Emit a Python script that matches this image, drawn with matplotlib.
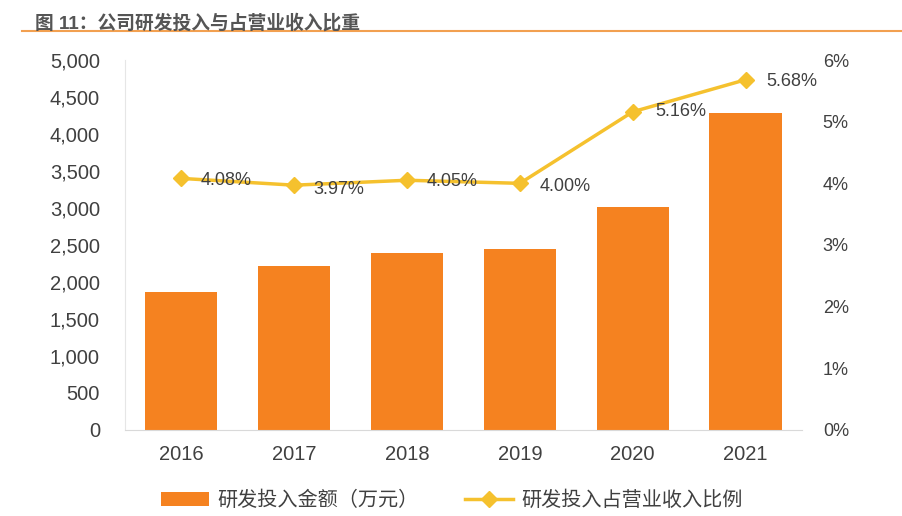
import numpy as np
import matplotlib
matplotlib.use("Agg")
from matplotlib import pyplot as plt
from matplotlib.ticker import FuncFormatter, MultipleLocator

plt.rcParams['font.family'] = ['Liberation Sans', 'Noto Sans CJK SC', 'DejaVu Sans']

years = ["2016", "2017", "2018", "2019", "2020", "2021"]
rd_amount = [1865, 2216, 2392, 2446, 3014, 4284]
rd_ratio = [4.08, 3.97, 4.05, 4.00, 5.16, 5.68]
ratio_labels = ["4.08%", "3.97%", "4.05%", "4.00%", "5.16%", "5.68%"]

bar_color = "#F58220"
line_color = "#F5C12E"
text_color = "#404040"

fig = plt.figure(figsize=(9.03, 5.16), dpi=100)
ax = fig.add_axes([0.1384, 0.1667, 0.7497, 0.717])
x = np.arange(len(years))

bars = ax.bar(x, rd_amount, width=0.64, color=bar_color, zorder=2,
              label="研发投入金额（万元）")
ax.set_ylim(0, 5000)
ax.set_xlim(-0.5, len(years) - 0.5)
ax.yaxis.set_major_locator(MultipleLocator(500))
ax.yaxis.set_major_formatter(FuncFormatter(lambda v, p: f"{int(v):,}"))
ax.set_xticks(x)
ax.set_xticklabels(years)
for s in ["top", "right"]:
    ax.spines[s].set_visible(False)
ax.spines["bottom"].set_color("#D9D9D9")
ax.spines["left"].set_color("#E6E6E6")
ax.tick_params(axis="both", length=0, labelsize=14.5, colors=text_color)
ax.tick_params(axis="x", pad=11)
ax.tick_params(axis="y", pad=18)

ax2 = ax.twinx()
line, = ax2.plot(x, rd_ratio, color=line_color, lw=2.5, marker="D", ms=8,
                 zorder=3, label="研发投入占营业收入比例")
ax2.set_ylim(0, 6)
ax2.yaxis.set_major_locator(MultipleLocator(1))
ax2.yaxis.set_major_formatter(FuncFormatter(lambda v, p: f"{int(v)}%"))
for s in ax2.spines.values():
    s.set_visible(False)
ax2.tick_params(axis="y", length=0, labelsize=13, colors=text_color, pad=15)

offsets = [(14, -1.5), (14, -3), (14, -1), (14, -2), (16, 0), (15, -1)]
for xi, yi, lab, off in zip(x, rd_ratio, ratio_labels, offsets):
    ax2.annotate(lab, (xi, yi), xytext=off, textcoords="offset points",
                 ha="left", va="center", fontsize=13, color=text_color)

fig.text(0.039, 0.973, "图 11：公司研发投入与占营业收入比重", fontsize=13.5,
         fontweight="bold", color="#555555", va="top", ha="left")
fig.add_artist(plt.Line2D([0.024, 1.0], [0.94, 0.94], color="#F2A050", lw=1.5))

fig.legend(handles=[bars, line], loc="center", bbox_to_anchor=(0.5, 0.03),
           ncol=2, frameon=False, fontsize=14.5, handlelength=2.4,
           handletextpad=0.4, columnspacing=2.3, labelcolor=text_color)

fig.savefig("out.png", dpi=100)
